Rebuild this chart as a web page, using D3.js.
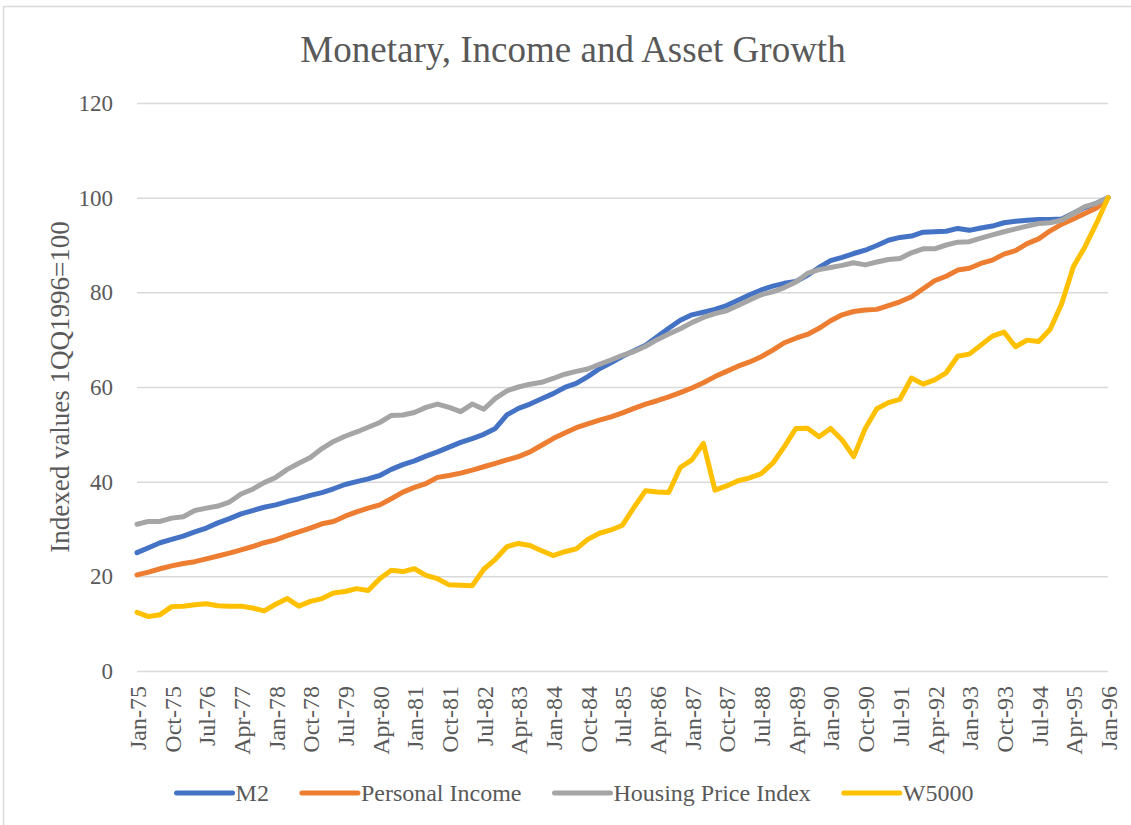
<!DOCTYPE html>
<html lang="en">
<head>
<meta charset="UTF-8">
<title>Monetary, Income and Asset Growth</title>
<script src="https://cdnjs.cloudflare.com/ajax/libs/d3/7.8.5/d3.min.js"></script>
<style>
    body { margin: 0; background: #fff; }
    text { font-family: "Liberation Serif", "Times New Roman", serif; fill: #595959; }
</style>
</head>
<body>
<svg id="chart" width="1131" height="825"></svg>
<script>

    // quarterly observations, Jan-75 .. Jan-96 (index 1Q1996 = 100)
    var quarters = d3.timeMonth.range(new Date(1975, 0, 1), new Date(1996, 1, 1), 3);
    var fmt = d3.timeFormat("%b-%y");

    var seriesNames = ["M2", "Personal Income", "Housing Price Index", "W5000"];
    var colors = ["#4472C4", "#ED7D31", "#A5A5A5", "#FFC000"];
    var yTicks = [0, 20, 40, 60, 80, 100, 120];

    var m2 = [25.0, 26.05, 27.1, 27.8, 28.5, 29.4, 30.2, 31.3, 32.2, 33.2,
        33.9, 34.6, 35.1, 35.8, 36.4, 37.1, 37.7, 38.5, 39.4, 40.0,
        40.6, 41.3, 42.6, 43.6, 44.4, 45.4, 46.3, 47.3, 48.3, 49.1,
        50.0, 51.25, 54.1, 55.5, 56.4, 57.5, 58.6, 59.9, 60.75, 62.2,
        63.85, 65.1, 66.5, 67.65, 68.8, 70.6, 72.4, 74.1, 75.25, 75.8,
        76.4, 77.2, 78.35, 79.5, 80.5, 81.3, 81.9, 82.3, 83.6, 85.25,
        86.7, 87.4, 88.2, 88.9, 89.9, 91.0, 91.6, 91.9, 92.7, 92.8,
        92.9, 93.5, 93.1, 93.6, 94.0, 94.7, 95.0, 95.25, 95.4, 95.4,
        95.5, 96.7, 97.9, 98.8, 100];

    var personalIncome = [20.3, 20.9, 21.6, 22.2, 22.7, 23.1, 23.7, 24.3, 24.9, 25.6,
        26.3, 27.1, 27.7, 28.6, 29.4, 30.2, 31.1, 31.6, 32.7, 33.6,
        34.4, 35.1, 36.4, 37.8, 38.8, 39.6, 40.9, 41.3, 41.8, 42.45,
        43.15, 43.85, 44.6, 45.3, 46.3, 47.7, 49.1, 50.3, 51.4, 52.2,
        53.0, 53.7, 54.55, 55.5, 56.4, 57.1, 57.9, 58.8, 59.8, 60.9,
        62.2, 63.3, 64.4, 65.3, 66.4, 67.8, 69.35, 70.3, 71.1, 72.4,
        74.0, 75.25, 75.95, 76.25, 76.4, 77.2, 78.0, 79.06, 80.75, 82.44,
        83.4, 84.7, 85.1, 86.1, 86.8, 88.07, 88.8, 90.3, 91.3, 93.0,
        94.4, 95.5, 96.66, 97.8, 100];

    var housingPrice = [31.0, 31.6, 31.6, 32.3, 32.6, 33.9, 34.4, 34.85, 35.7, 37.4,
        38.4, 39.8, 40.9, 42.6, 43.9, 45.1, 47.0, 48.5, 49.6, 50.5,
        51.5, 52.5, 54.0, 54.1, 54.6, 55.7, 56.4, 55.7, 54.8, 56.4,
        55.3, 57.6, 59.2, 60.0, 60.6, 61.0, 61.8, 62.7, 63.3, 63.8,
        64.8, 65.7, 66.7, 67.5, 68.6, 70.0, 71.2, 72.3, 73.6, 74.7,
        75.5, 76.1, 77.2, 78.4, 79.5, 80.1, 81.0, 82.2, 84.0, 84.8,
        85.25, 85.7, 86.25, 85.8, 86.4, 86.95, 87.15, 88.35, 89.2, 89.2,
        90.0, 90.6, 90.7, 91.45, 92.15, 92.8, 93.4, 94.0, 94.55, 94.7,
        95.25, 96.66, 98.1, 98.8, 100];

    var w5000 = [12.4, 11.5, 11.9, 13.6, 13.7, 14.0, 14.2, 13.8, 13.7, 13.7,
        13.3, 12.7, 14.1, 15.3, 13.7, 14.7, 15.3, 16.5, 16.8, 17.4,
        17.0, 19.5, 21.3, 21.0, 21.6, 20.2, 19.5, 18.2, 18.1, 18.0,
        21.5, 23.6, 26.25, 26.95, 26.5, 25.4, 24.4, 25.2, 25.8, 27.8,
        29.1, 29.8, 30.8, 34.6, 38.1, 37.8, 37.7, 43.0, 44.6, 48.1,
        38.2, 39.1, 40.2, 40.8, 41.7, 43.9, 47.4, 51.25, 51.3, 49.5,
        51.25, 48.8, 45.3, 51.25, 55.4, 56.7, 57.4, 61.9, 60.6, 61.5,
        63.0, 66.5, 66.95, 68.85, 70.75, 71.6, 68.5, 69.9, 69.6, 72.2,
        77.65, 85.4, 89.6, 94.55, 100];

    var seriesValues = [m2, personalIncome, housingPrice, w5000];

    var svg = d3.select("#chart"),
        plotLeft = 137, plotRight = 1108, plotTop = 103, plotBottom = 671;

    var x = d3.scaleLinear().domain([0, quarters.length - 1]).range([plotLeft, plotRight]),
        y = d3.scaleLinear().domain([0, 120]).range([plotBottom, plotTop]);

    // chart area border
    svg.append("rect")
        .attr("x", 3.5).attr("y", 6.5)
        .attr("width", 1150).attr("height", 840)
        .attr("fill", "none").attr("stroke", "#D9D9D9").attr("stroke-width", 1.5);

    // title
    svg.append("text")
        .attr("x", 573).attr("y", 62)
        .attr("text-anchor", "middle")
        .style("font-size", "37px")
        .text("Monetary, Income and Asset Growth");

    // y axis + gridlines
    var yAxis = svg.append("g")
        .attr("transform", "translate(" + plotLeft + ",0)")
        .call(d3.axisLeft(y).tickValues(yTicks).tickSize(-(plotRight - plotLeft)).tickPadding(24));
    yAxis.select(".domain").remove();
    yAxis.selectAll("line").attr("stroke", "#D9D9D9").attr("stroke-width", 1.5);
    yAxis.selectAll("text").style("font-size", "23px").attr("fill", "#595959");

    // x axis labels, every third quarter
    var xTicks = d3.range(0, quarters.length, 3);
    var xAxis = svg.append("g")
        .attr("transform", "translate(0," + plotBottom + ")")
        .call(d3.axisBottom(x).tickValues(xTicks).tickSize(0).tickFormat(function (i) {
            return fmt(quarters[i]);
        }));
    xAxis.select(".domain").remove();
    xAxis.selectAll("text")
        .style("font-size", "24px")
        .attr("fill", "#595959")
        .attr("text-anchor", "end")
        .attr("transform", "translate(0,15) rotate(-90)")
        .attr("x", 0).attr("y", 0).attr("dy", "0.35em");

    // y axis title
    svg.append("text")
        .attr("transform", "translate(60,387) rotate(-90)")
        .attr("text-anchor", "middle")
        .attr("dy", "0.35em")
        .style("font-size", "27px")
        .text("Indexed values 1QQ1996=100");

    // lines
    var line = d3.line()
        .x(function (d, i) { return x(i); })
        .y(function (d) { return y(d); });

    seriesValues.forEach(function (vals, k) {
        svg.append("path")
            .datum(vals)
            .attr("d", line)
            .attr("fill", "none")
            .attr("stroke", colors[k])
            .attr("stroke-width", 5)
            .attr("stroke-linejoin", "round")
            .attr("stroke-linecap", "round");
    });

    // legend
    var legend = svg.append("g"), lx = 0, legendY = 793;
    seriesNames.forEach(function (name, k) {
        var g = legend.append("g").attr("transform", "translate(" + lx + ",0)");
        g.append("line")
            .attr("x1", 0).attr("x2", 56)
            .attr("y1", legendY).attr("y2", legendY)
            .attr("stroke", colors[k]).attr("stroke-width", 5)
            .attr("stroke-linecap", "round");
        var t = g.append("text")
            .attr("x", 59).attr("y", legendY).attr("dy", "0.35em")
            .style("font-size", "24px")
            .text(name);
        lx += 59 + t.node().getComputedTextLength() + 33;
    });
    var legendWidth = lx - 33;
    legend.attr("transform", "translate(" + (575 - legendWidth / 2) + ",0)");

</script>
</body>
</html>
